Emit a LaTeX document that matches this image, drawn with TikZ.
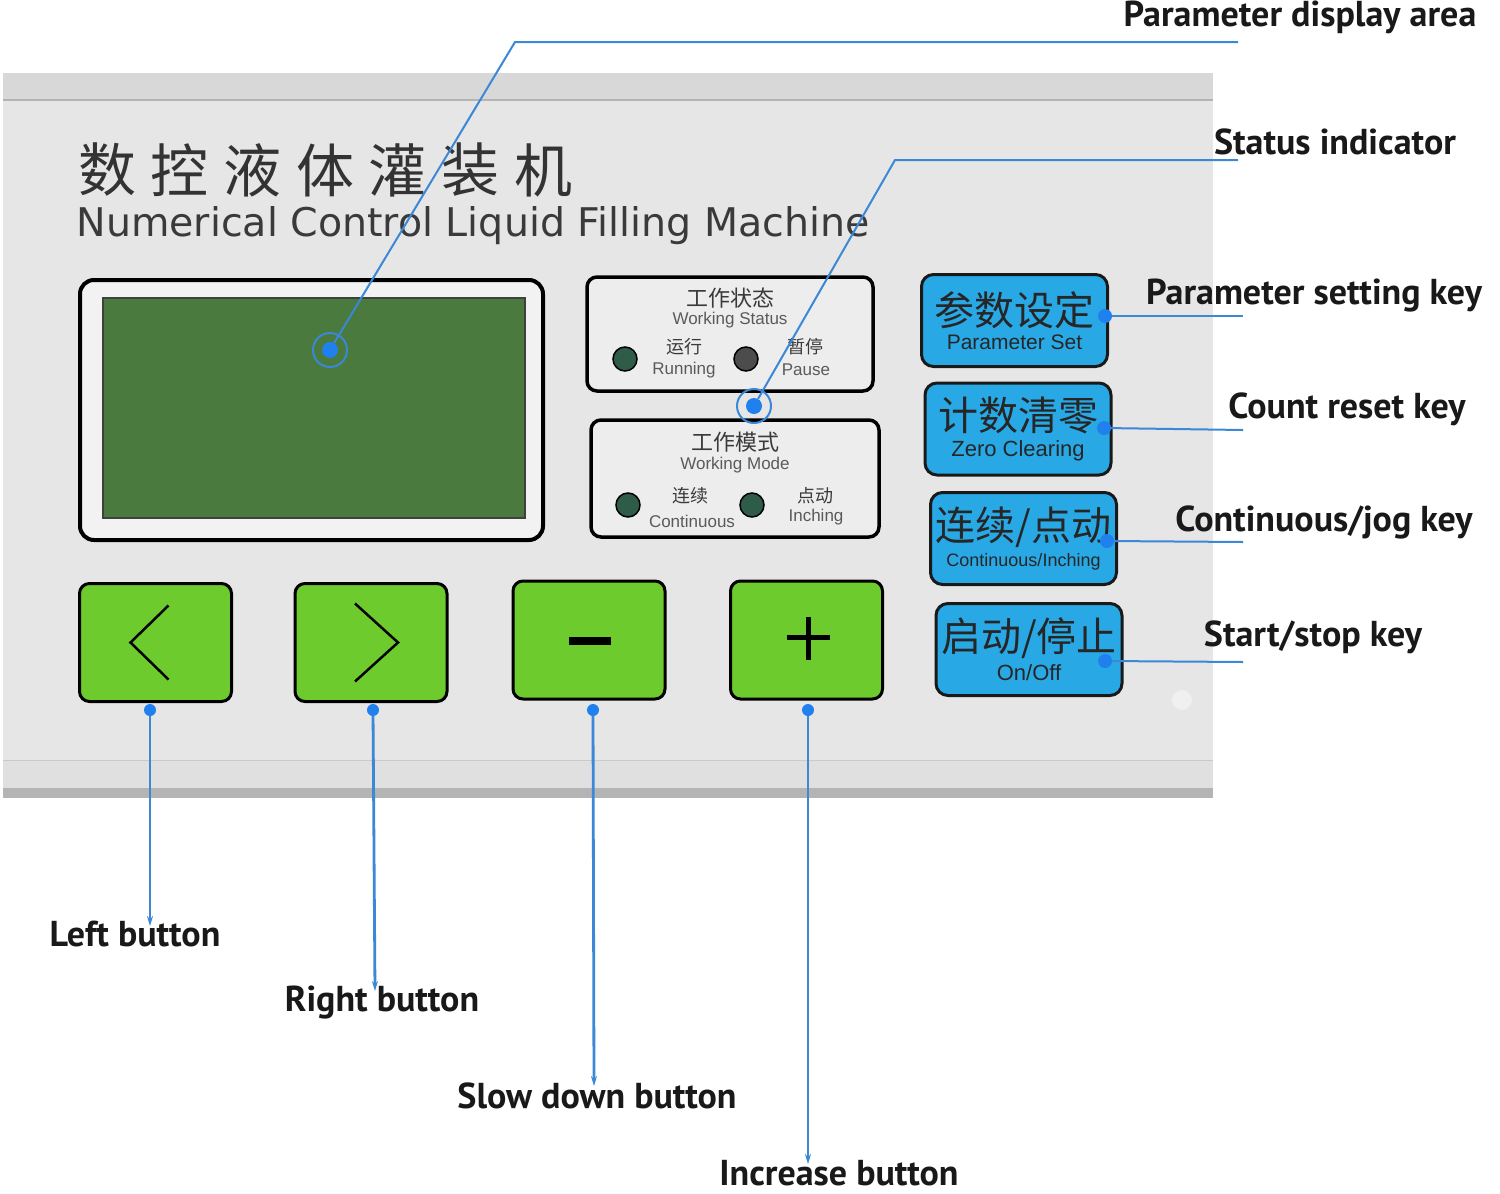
\documentclass[tikz,border=0pt]{standalone}
\usepackage{fontspec}
\setmainfont{Liberation Sans}
\newfontfamily\cjk{Noto Sans CJK SC}
\newfontfamily\lbl{PT Sans}
\newfontfamily\wide{DejaVu Sans}
\usetikzlibrary{arrows.meta,positioning}
\definecolor{panelgray}{HTML}{E6E6E6}
\definecolor{bandgray}{HTML}{D8D8D8}
\definecolor{edgegray}{HTML}{B4B4B4}
\definecolor{lcdgreen}{HTML}{4B7A3E}
\definecolor{btngreen}{HTML}{6DCB2D}
\definecolor{keyblue}{HTML}{28A9E6}
\definecolor{leadblue}{HTML}{3A88D6}
\definecolor{dotblue}{HTML}{1F80EE}
\definecolor{ledgreen}{HTML}{2F5C48}
\definecolor{inkgray}{HTML}{3A3A3A}
\definecolor{softgray}{HTML}{5A5A5A}
\begin{document}
\begin{tikzpicture}[x=1pt, y=-1pt,
    gbtn/.style = {draw=black, line width=3pt, fill=btngreen, rounded corners=10pt,
                   minimum width=152pt, minimum height=118pt},
    bkey/.style = {draw=black!90, line width=3pt, fill=keyblue, rounded corners=12pt,
                   minimum width=186pt, minimum height=92pt, align=center, inner sep=0pt,
                   text=black!85},
    sbox/.style = {draw=black, line width=3.5pt, rounded corners=10pt, fill=panelgray!70!white},
    led/.style = {circle, draw=black, line width=1.5pt, fill=ledgreen, minimum size=24pt},
    tag/.style = {font=\lbl\bfseries\fontsize{36}{38}\selectfont, text=black!90, inner sep=0pt},
    lead/.style = {draw=leadblue, line width=2pt},
    pin/.style = {circle, fill=dotblue, minimum size=14pt, inner sep=0pt},
    ring/.style = {circle, draw=leadblue, line width=2pt, minimum size=34pt, inner sep=0pt},
    cn/.style = {font=\cjk\fontsize{#1}{#1}\selectfont, text=inkgray, inner sep=0pt},
    en/.style = {font=\fontsize{#1}{#1}\selectfont, text=softgray, inner sep=0pt},
]
\useasboundingbox (0,0) rectangle (1500,1194);
\fill[white] (0,0) rectangle (1500,1194);

% panel
\fill[panelgray] (3,73) rectangle (1213,798);
\fill[bandgray] (3,73) rectangle (1213,100);
\draw[edgegray, line width=1.5pt] (3,100) -- (1213,100);
\fill[bandgray!80!white] (3,760) rectangle (1213,788);
\draw[edgegray!70!white, line width=1pt] (3,760) -- (1213,760);
\fill[edgegray] (3,788) rectangle (1213,798);
\fill[panelgray!60!white] (1182,700) circle (10pt);

% title
\foreach \c [count=\i] in {数,控,液,体,灌,装,机}
    \node[cn=58, text=black!80] (t\i) at ({107+(\i-1)*72.7},170) {\c};
\node[font=\wide\fontsize{39.5}{42}\selectfont, text=inkgray, inner sep=0pt] (sub) at (473,226) {Numerical Control Liquid Filling Machine};

% display
\node[draw=black, line width=4pt, rounded corners=14pt, fill=panelgray!50!white,
      minimum width=463pt, minimum height=260pt] (lcd) at (311.5,410) {};
\node[draw=black!75, line width=2pt, fill=lcdgreen,
      minimum width=422pt, minimum height=220pt] (screen) at (314,408) {};

% status boxes
\node[sbox, minimum width=286pt, minimum height=114pt] (sb1) at (730,334) {};
\node[cn=22] (ws) at (730,298) {工作状态};
\node[en=17] (wse) at (730,320) {Working Status};
\node[led] (led1) at (625,359) {};
\node[led, fill=black!70] (led2) at (746,359) {};
\node[cn=18] (run) at (684,347) {运行};
\node[en=17] (rune) at (684,370) {Running};
\node[cn=18] (pau) at (805,347) {暂停};
\node[en=17] (paue) at (806,370) {Pause};

\node[sbox, minimum width=288pt, minimum height=117pt] (sb2) at (735,478.5) {};
\node[cn=22] (wm) at (735,442) {工作模式};
\node[en=17] (wme) at (735,465) {Working Mode};
\node[led] (led3) at (628,505) {};
\node[led] (led4) at (752,505) {};
\node[cn=18] (con) at (690,496) {连续};
\node[en=17] (cone) at (692,521) {Continuous};
\node[cn=18] (inc) at (815,496) {点动};
\node[en=17] (ince) at (816,517) {Inching};

% blue keys
\node[bkey] (k1) at (1014.5,320.5) {{\cjk\fontsize{40}{42}\selectfont 参数设定}\\[5pt]{\fontsize{21}{22}\selectfont Parameter Set}};
\node[bkey] (k2) at (1018,429) {{\cjk\fontsize{40}{42}\selectfont 计数清零}\\[5pt]{\fontsize{22}{22}\selectfont Zero Clearing}};
\node[bkey] (k3) at (1023.5,538.5) {{\cjk\fontsize{40}{42}\selectfont 连续/点动}\\[4pt]{\fontsize{18}{22}\selectfont Continuous/Inching}};
\node[bkey] (k4) at (1029,649.5) {{\cjk\fontsize{40}{42}\selectfont 启动/停止}\\[5pt]{\fontsize{22}{22}\selectfont On/Off}};

% green buttons
\node[gbtn] (b1) at (155.5,642.5) {};
\node[gbtn] (b2) at (371,642.5) {};
\node[gbtn] (b3) at (589,640) {};
\node[gbtn] (b4) at (806.5,640) {};
\draw[line width=2.5pt] ([shift={(13,-37)}]b1.center) -- ([shift={(-25,0)}]b1.center) -- ([shift={(13,37)}]b1.center);
\draw[line width=2.5pt] ([shift={(-16,-39)}]b2.center) -- ([shift={(27,0)}]b2.center) -- ([shift={(-16,39)}]b2.center);
\draw[line width=8pt] ([shift={(-20,1)}]b3.center) -- ([shift={(22,1)}]b3.center);
\draw[line width=5pt] ([shift={(-20,-3)}]b4.center) -- ([shift={(23,-3)}]b4.center);
\draw[line width=5pt] ([shift={(1.5,-23)}]b4.center) -- ([shift={(1.5,20)}]b4.center);

% labels
\node[tag] (tDisp) at (1300,17) {Parameter display area};
\node[tag] (tStat) at (1335,142) {Status indicator};
\node[tag] (tSet) at (1314,296) {Parameter setting key};
\node[tag] (tReset) at (1347,409) {Count reset key};
\node[tag] (tJog) at (1324,522) {Continuous/jog key};
\node[tag] (tStart) at (1313,637) {Start/stop key};
\node[tag] (tLeft) at (135,934) {Left button};
\node[tag] (tRight) at (382,1003) {Right button};
\node[tag] (tSlow) at (597,1096) {Slow down button};
\node[tag] (tInc) at (839,1173) {Increase button};

% pins
\node[ring] (rDisp) at (330,350) {};
\node[pin, minimum size=16pt] (pDisp) at (330,350) {};
\node[ring] (rStat) at (754,406) {};
\node[pin, minimum size=16pt] (pStat) at (754,406) {};
\node[pin] (pSet) at (1105,316) {};
\node[pin] (pReset) at (1104,428) {};
\node[pin] (pJog) at (1107,541) {};
\node[pin] (pStart) at (1105,661) {};
\node[pin, minimum size=12pt] (pLeft) at (150,710) {};
\node[pin, minimum size=12pt] (pRight) at (373,710) {};
\node[pin, minimum size=12pt] (pSlow) at (593,710) {};
\node[pin, minimum size=12pt] (pInc) at (808,710) {};

% leader bends and ends
\coordinate (cDisp) at (515,42);
\coordinate (eDisp) at (1238,42);
\coordinate (cStat) at (895,160);
\coordinate (eStat) at (1238,160);
\coordinate (eSet) at (1243,316);
\coordinate (eReset) at (1243,430);
\coordinate (eJog) at (1243,542);
\coordinate (eStart) at (1243,662);
\coordinate (eLeft) at (150,926);
\coordinate (eRight) at (375,991);
\coordinate (eSlow) at (594,1086);
\coordinate (eInc) at (808,1164);

\draw[lead] (pDisp) -- (cDisp) -- (eDisp);
\draw[lead] (pStat) -- (cStat) -- (eStat);
\draw[lead] (pSet) -- (eSet);
\draw[lead] (pReset) -- (eReset);
\draw[lead] (pJog) -- (eJog);
\draw[lead] (pStart) -- (eStart);
\foreach \b in {Left, Right, Slow, Inc}
    \draw[lead, line width=2.8pt, -{Stealth[length=10pt, width=6pt]}] (p\b) -- (e\b);
\end{tikzpicture}
\end{document}
